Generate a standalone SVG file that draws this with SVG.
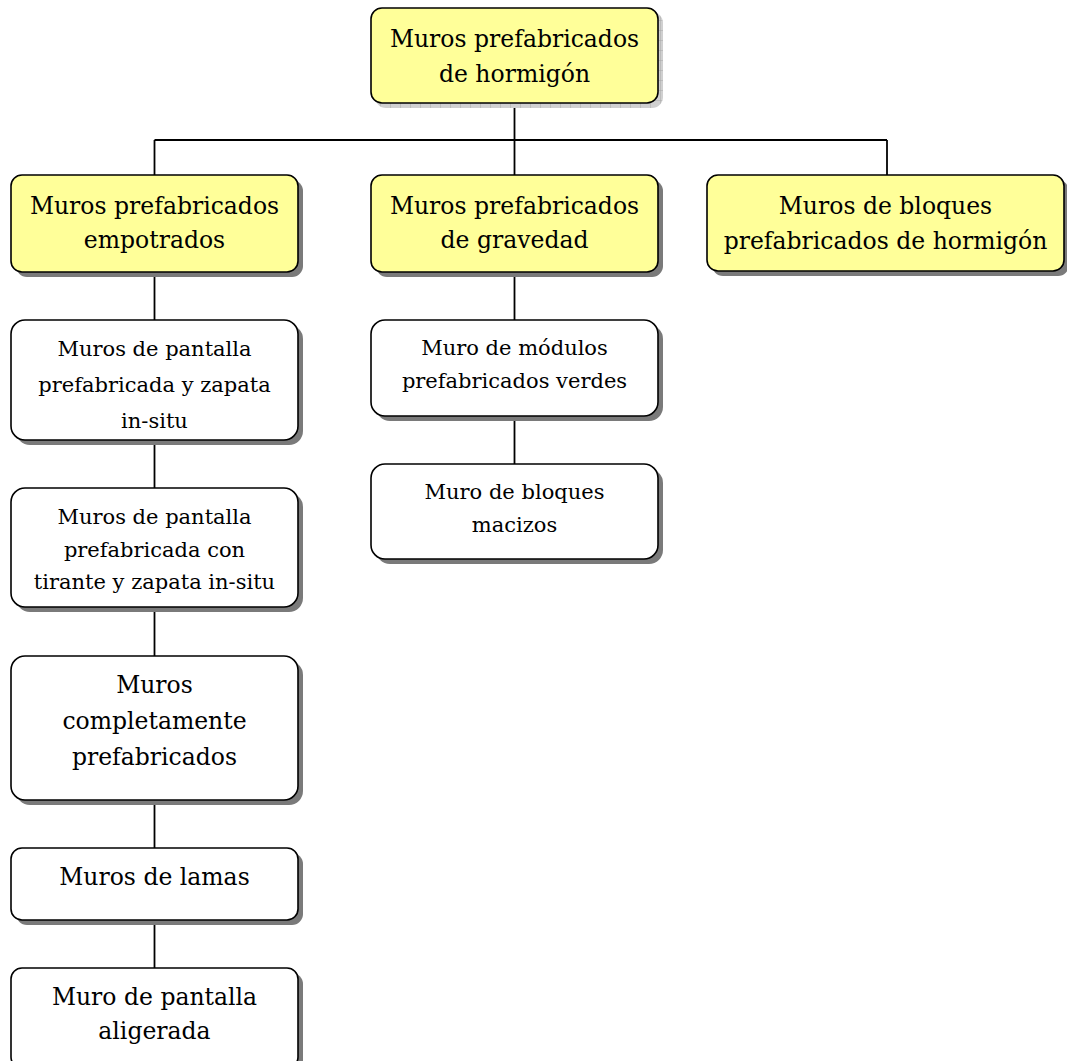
<svg xmlns="http://www.w3.org/2000/svg" width="1067" height="1061" viewBox="0 0 1067 1061">
<style>
.box{stroke:#000;stroke-width:1.6}
.y{fill:#FFFF99}
.w{fill:#FFFFFF}
.sh{fill:#7a7a7a}
.shg{fill:url(#grid)}
text{font-family:"DejaVu Serif","Liberation Serif",serif;fill:#000;text-anchor:middle}
.L{font-size:23.5px}
.S{font-size:21px}
.conn line{stroke:#000;stroke-width:1.8}
</style>
<defs>
<pattern id="grid" width="10" height="10" patternUnits="userSpaceOnUse">
<rect width="10" height="10" fill="#d0d0d0"/>
<path d="M0 0H10M0 0V10" stroke="#a8a8a8" stroke-width="1"/>
</pattern>
</defs>
<rect width="1067" height="1061" fill="#fff"/>
<g class="conn" id="connectors">
<line x1="514.5" y1="103" x2="514.5" y2="140"/>
<line x1="154.5" y1="140" x2="887" y2="140"/>
<line x1="154.5" y1="140" x2="154.5" y2="175"/>
<line x1="514.5" y1="140" x2="514.5" y2="175"/>
<line x1="887" y1="140" x2="887" y2="175"/>
<line x1="154.5" y1="272" x2="154.5" y2="320"/>
<line x1="154.5" y1="440" x2="154.5" y2="488"/>
<line x1="154.5" y1="607" x2="154.5" y2="656"/>
<line x1="154.5" y1="800" x2="154.5" y2="848"/>
<line x1="154.5" y1="920" x2="154.5" y2="968"/>
<line x1="514.5" y1="272" x2="514.5" y2="320"/>
<line x1="514.5" y1="416" x2="514.5" y2="464"/>
</g>
<g id="n0">
<rect class="shg" x="375" y="12" width="288" height="96" rx="11"/>
<rect class="box y" x="371" y="8" width="287" height="95" rx="11"/>
<text class="L" x="514.5" y="47">Muros prefabricados</text>
<text class="L" x="514.5" y="82">de hormigón</text>
</g>
<g id="n1">
<rect class="sh" x="16" y="180" width="287" height="97" rx="11"/>
<rect class="box y" x="11" y="175" width="287" height="97" rx="11"/>
<text class="L" x="154.5" y="214">Muros prefabricados</text>
<text class="L" x="154.5" y="248">empotrados</text>
</g>
<g id="n2">
<rect class="sh" x="376" y="180" width="287" height="97" rx="11"/>
<rect class="box y" x="371" y="175" width="287" height="97" rx="11"/>
<text class="L" x="514.5" y="214">Muros prefabricados</text>
<text class="L" x="514.5" y="248">de gravedad</text>
</g>
<g id="n3">
<rect class="sh" x="712" y="180" width="357" height="96" rx="11"/>
<rect class="box y" x="707" y="175" width="357" height="96" rx="11"/>
<text class="L" x="885.5" y="214">Muros de bloques</text>
<text class="L" x="885.5" y="249">prefabricados de hormigón</text>
</g>
<g id="n4">
<rect class="sh" x="16" y="325" width="287" height="120" rx="14"/>
<rect class="box w" x="11" y="320" width="287" height="120" rx="14"/>
<text class="S" x="154.5" y="356">Muros de pantalla</text>
<text class="S" x="154.5" y="392">prefabricada y zapata</text>
<text class="S" x="154.5" y="428">in-situ</text>
</g>
<g id="n5">
<rect class="sh" x="16" y="493" width="287" height="119" rx="14"/>
<rect class="box w" x="11" y="488" width="287" height="119" rx="14"/>
<text class="S" x="154.5" y="524">Muros de pantalla</text>
<text class="S" x="154.5" y="557">prefabricada con</text>
<text class="S" x="154.5" y="589">tirante y zapata in-situ</text>
</g>
<g id="n6">
<rect class="sh" x="16" y="661" width="287" height="144" rx="14"/>
<rect class="box w" x="11" y="656" width="287" height="144" rx="14"/>
<text class="L" x="154.5" y="693">Muros</text>
<text class="L" x="154.5" y="729">completamente</text>
<text class="L" x="154.5" y="765">prefabricados</text>
</g>
<g id="n7">
<rect class="sh" x="16" y="853" width="287" height="72" rx="11"/>
<rect class="box w" x="11" y="848" width="287" height="72" rx="11"/>
<text class="L" x="154.5" y="885">Muros de lamas</text>
</g>
<g id="n8">
<rect class="sh" x="16" y="973" width="287" height="100" rx="11"/>
<rect class="box w" x="11" y="968" width="287" height="100" rx="11"/>
<text class="L" x="154.5" y="1005">Muro de pantalla</text>
<text class="L" x="154.5" y="1039">aligerada</text>
</g>
<g id="n9">
<rect class="sh" x="376" y="325" width="287" height="96" rx="14"/>
<rect class="box w" x="371" y="320" width="287" height="96" rx="14"/>
<text class="S" x="514.5" y="355">Muro de módulos</text>
<text class="S" x="514.5" y="388">prefabricados verdes</text>
</g>
<g id="n10">
<rect class="sh" x="376" y="469" width="287" height="95" rx="14"/>
<rect class="box w" x="371" y="464" width="287" height="95" rx="14"/>
<text class="S" x="514.5" y="499">Muro de bloques</text>
<text class="S" x="514.5" y="532">macizos</text>
</g>
</svg>
